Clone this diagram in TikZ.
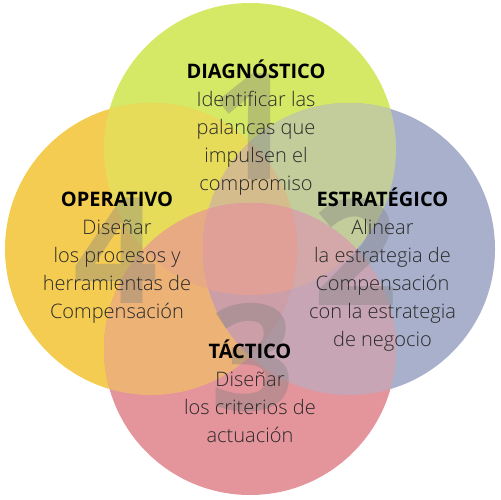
\documentclass[tikz,border=0pt]{standalone}
\usepackage{fontspec}
\setmainfont{Open Sans}
\newfontfamily\lightf{Open Sans Light}
\definecolor{cT}{HTML}{D6E966}
\definecolor{cL}{HTML}{F5CC52}
\definecolor{cR}{HTML}{A8B0CC}
\definecolor{cB}{HTML}{E4949B}
\definecolor{cTL}{HTML}{E6DC5A}
\definecolor{cTR}{HTML}{C2CD9B}
\definecolor{cLB}{HTML}{ECB276}
\definecolor{cRB}{HTML}{C8A5B4}
\definecolor{cTLR}{HTML}{D5BC8C}
\definecolor{cTLB}{HTML}{E8AA82}
\definecolor{cTRB}{HTML}{D4A8A8}
\definecolor{cLRB}{HTML}{CC9EA8}
\definecolor{cQ}{HTML}{E0A098}
\definecolor{bodytxt}{HTML}{2A2A2A}
\tikzset{
  digit/.style={anchor=base, inner sep=0pt, text=black!50,
    font=\fontsize{148bp}{148bp}\selectfont\bfseries},
  block/.style={anchor=base, inner sep=0pt, align=center, text=bodytxt,
    font=\fontsize{20bp}{28bp}\selectfont\lightf}
}
\newcommand{\ttlf}[1]{{\fontsize{20bp}{28bp}\selectfont\normalfont\bfseries\color{black}#1}}
\begin{document}
\begin{tikzpicture}[x=1bp,y=-1bp]
\useasboundingbox (0,0) rectangle (500,500);
\def\rr{146bp}
\coordinate (T) at (250,149);
\coordinate (L) at (151,249);
\coordinate (R) at (349,249);
\coordinate (B) at (250,349);
% single circles
\fill[cT] (T) circle[radius=\rr];
\fill[cL] (L) circle[radius=\rr];
\fill[cR] (R) circle[radius=\rr];
\fill[cB] (B) circle[radius=\rr];
% pairs
\begin{scope}\clip (T) circle[radius=\rr]; \fill[cTL] (L) circle[radius=\rr];\end{scope}
\begin{scope}\clip (T) circle[radius=\rr]; \fill[cTR] (R) circle[radius=\rr];\end{scope}
\begin{scope}\clip (B) circle[radius=\rr]; \fill[cLB] (L) circle[radius=\rr];\end{scope}
\begin{scope}\clip (B) circle[radius=\rr]; \fill[cRB] (R) circle[radius=\rr];\end{scope}
% triples
\begin{scope}\clip (T) circle[radius=\rr]; \clip (L) circle[radius=\rr]; \fill[cTLR] (R) circle[radius=\rr];\end{scope}
\begin{scope}\clip (T) circle[radius=\rr]; \clip (L) circle[radius=\rr]; \fill[cTLB] (B) circle[radius=\rr];\end{scope}
\begin{scope}\clip (T) circle[radius=\rr]; \clip (R) circle[radius=\rr]; \fill[cTRB] (B) circle[radius=\rr];\end{scope}
\begin{scope}\clip (L) circle[radius=\rr]; \clip (R) circle[radius=\rr]; \fill[cLRB] (B) circle[radius=\rr];\end{scope}
% all four
\begin{scope}\clip (T) circle[radius=\rr]; \clip (L) circle[radius=\rr]; \clip (R) circle[radius=\rr]; \fill[cQ] (B) circle[radius=\rr];\end{scope}
% big digits
\begin{scope}[opacity=0.38]
\node[digit] (d1) at (252,180) {1};
\node[digit] (d2) at (356,305) {2};
\node[digit] (d3) at (253,410) {3};
\node[digit] (d4) at (116,303) {4};
\end{scope}
% texts (anchor = baseline of last line)
\node[block] (diag) at (256,190.5) {\ttlf{DIAGNÓSTICO}\\Identificar las\\palancas que\\impulsen el\\compromiso};
\node[block] (oper) at (117,318.5) {\ttlf{OPERATIVO}\\Diseñar\\los procesos y\\herramientas de\\Compensación};
\node[block] (estr) at (382.5,346) {\ttlf{ESTRATÉGICO}\\Alinear\\la estrategia de\\Compensación\\con la estrategia\\de negocio};
\node[block] (tact) at (250,442.5) {\ttlf{TÁCTICO}\\Diseñar\\los criterios de\\actuación};
\end{tikzpicture}
\end{document}
